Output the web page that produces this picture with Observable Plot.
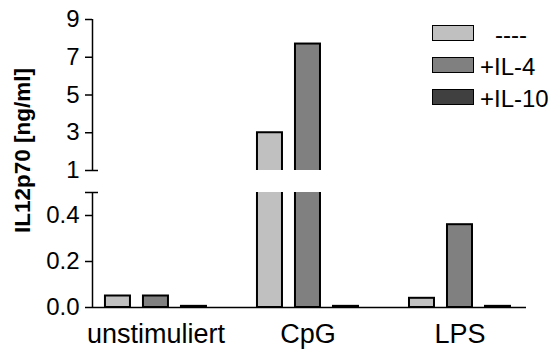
<!DOCTYPE html>
<html>
<head>
<meta charset="utf-8">
<script src="https://cdn.jsdelivr.net/npm/d3@7"></script>
<script src="https://cdn.jsdelivr.net/npm/@observablehq/plot@0.6"></script>
<style>
  html, body { margin: 0; padding: 0; background: #fff; }
  #wrap { position: relative; width: 550px; height: 350px; font-family: "Liberation Sans", Arial, sans-serif; }
  #legend { position: absolute; left: 432px; top: 16.5px; }
  .row { display: flex; align-items: center; height: 32px; }
  .sw { box-sizing: border-box; width: 42px; height: 16px; border: 1.5px solid #000; }
  .lab { font-size: 24px; line-height: 1; margin-left: 6px; position: relative; top: 2px; color: #000; white-space: pre; }
</style>
</head>
<body>
<div id="wrap"><div id="chart"></div><div id="legend"></div></div>
<script>
// ---- data ----
const groups = ["unstimuliert", "CpG", "LPS"];
const seriesNames = ["----", "+IL-4", "+IL-10"];
const seriesColors = ["#c0c0c0", "#808080", "#404040"];
const valuesNone = [0.05, 3.0, 0.04];
const valuesIL4 = [0.05, 7.7, 0.36];
const valuesIL10 = [0.005, 0.005, 0.005];
const yTicks = [0, 0.2, 0.4, 1, 3, 5, 7, 9];
const yBreak = [0.5, 1];
const yMax = 9;
const yLabel = "IL12p70 [ng/ml]";

// ---- table ----
const seriesValues = [valuesNone, valuesIL4, valuesIL10];
const slot = seriesNames.length + 1;
const table = [];
groups.forEach((g, gi) => seriesNames.forEach((s, si) => {
  table.push({group: g, series: s, pos: gi * slot + si, value: seriesValues[si][gi]});
}));

// ---- layout ----
const W = 550, H = 350, mL = 92, mR = 24, mT = 19, mB = 43;
const breakPx = [192, 170];
const xDomain = [-0.17, groups.length * slot - 0.75];
const font = "'Liberation Sans', Arial, sans-serif";

const chart = Plot.plot({
  width: W, height: H,
  marginLeft: mL, marginRight: mR, marginTop: mT, marginBottom: mB,
  style: {fontFamily: font, background: "white", color: "black", overflow: "visible"},
  x: {type: "linear", domain: xDomain},
  y: {type: "linear", domain: [0, yBreak[0], yBreak[1], yMax], range: [H - mB, breakPx[0], breakPx[1], mT]},
  color: {domain: seriesNames, range: seriesColors},
  marks: [
    Plot.rect(table, {
      x1: "pos", x2: d => d.pos + 1, y1: 0, y2: "value",
      insetLeft: 6.5, insetRight: 6.5,
      fill: "series", stroke: "black", strokeWidth: 2
    }),
    Plot.rect([yBreak], {y1: d => d[0], y2: d => d[1], fill: "white"}),
    Plot.ruleY([0], {strokeWidth: 1.5}),
    Plot.ruleX([[0, yBreak[0]], [yBreak[1], yMax]], {x: xDomain[0], y1: d => d[0], y2: d => d[1], strokeWidth: 1.5}),
    Plot.axisY({
      ticks: [...yTicks, yBreak[0]].sort((a, b) => a - b),
      tickFormat: d => d === yBreak[0] ? "" : (d < yBreak[1] ? d.toFixed(1) : String(d)),
      tickSize: 7, tickPadding: 6, fontSize: 24, strokeWidth: 1.5, label: null
    }),
    Plot.axisY({ticks: yBreak, tickSize: -6, tickFormat: () => "", strokeWidth: 1.5, label: null}),
    Plot.axisX({
      ticks: groups.map((g, i) => i * slot + seriesNames.length / 2),
      tickFormat: d => groups[Math.round((d - seriesNames.length / 2) / slot)],
      tickSize: 0, tickPadding: 16, fontSize: 27, label: null
    }),
    Plot.text([yLabel], {
      text: d => d, frameAnchor: "left", textAnchor: "middle", rotate: -90, dx: -70, dy: -13,
      fontWeight: "bold", fontSize: 22.5
    })
  ]
});
document.getElementById("chart").appendChild(chart);

// ---- legend ----
const legend = document.getElementById("legend");
seriesNames.forEach((s, i) => {
  const row = document.createElement("div");
  row.className = "row";
  const sw = document.createElement("div");
  sw.className = "sw";
  sw.style.background = seriesColors[i];
  const lab = document.createElement("span");
  lab.className = "lab";
  lab.textContent = s;
  if (i === 0) lab.style.marginLeft = "21px";
  row.appendChild(sw); row.appendChild(lab);
  legend.appendChild(row);
});
</script>
</body>
</html>
